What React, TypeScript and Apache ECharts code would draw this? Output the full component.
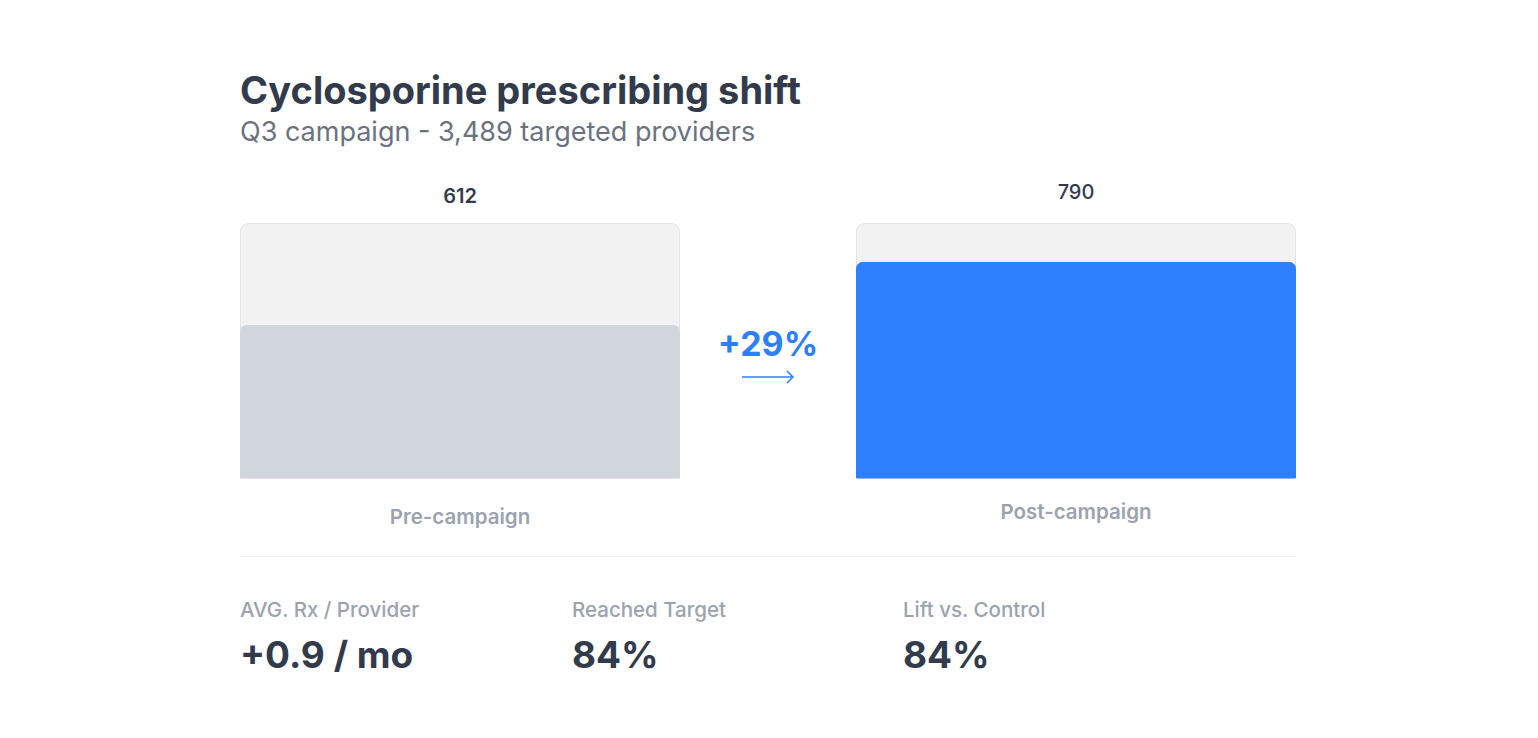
import React, { useEffect, useRef } from "react";
import * as echarts from "echarts";

// Provider prescribing volume before and after the Q3 campaign
const categories = ["Pre-campaign", "Post-campaign"];
const prescriptions = [612, 790];
const trackMax = 900;
const axisMin = 180;

// Summary statistics shown under the chart
const statLabels = ["AVG. Rx / Provider", "Reached Target", "Lift vs. Control"];
const statValues = ["+0.9 / mo", "84%", "84%"];

const TITLE = "Cyclosporine prescribing shift";
const SUBTITLE = "Q3 campaign - 3,489 targeted providers";

const FONT = "Inter, 'Noto Sans', sans-serif";
const DARK = "#323b4c";
const MUTED = "#9ba3b0";
const BLUE = "#2e7ffe";

export default function App() {
  const ref = useRef<HTMLDivElement>(null);

  useEffect(() => {
    document.body.style.margin = "0";
    if (!ref.current) return;
    const chart = echarts.init(ref.current, undefined, { renderer: "svg" });

    const change = (prescriptions[1] - prescriptions[0]) / prescriptions[0];
    const changeText = `${change >= 0 ? "+" : ""}${Math.round(change * 100)}%`;
    const statX = [240, 572, 903];

    chart.setOption({
      animation: false,
      backgroundColor: "#ffffff",
      grid: { left: 152, right: 154, top: 223, bottom: 260 },
      xAxis: {
        type: "category",
        data: [
          { value: categories[0], textStyle: { padding: [5, 0, 0, 0] } },
          { value: categories[1], textStyle: { padding: [0, 0, 0, 0] } },
        ],
        axisLine: { show: false },
        axisTick: { show: false },
        axisLabel: {
          margin: 23,
          color: MUTED,
          fontFamily: FONT,
          fontSize: 20.5,
          fontWeight: 600,
        },
      },
      yAxis: {
        type: "value",
        min: axisMin,
        max: trackMax,
        show: false,
        splitLine: { show: false },
      },
      series: [
        {
          name: "track",
          type: "bar",
          barWidth: 440,
          silent: true,
          z: 1,
          data: prescriptions.map((_, i) => ({
            value: trackMax,
            label: { distance: i === 0 ? 17 : 21, fontWeight: i === 0 ? 600 : 500 },
          })),
          itemStyle: {
            color: "#f2f2f2",
            borderColor: "#e1e2e7",
            borderWidth: 1,
            borderRadius: [8, 8, 0, 0],
          },
          label: {
            show: true,
            position: "top",
            formatter: (p: any) => String(prescriptions[p.dataIndex]),
            color: DARK,
            fontFamily: FONT,
            fontSize: 20,
          },
        },
        {
          name: "Prescriptions",
          type: "bar",
          barWidth: 440,
          barGap: "-100%",
          z: 2,
          data: prescriptions.map((v, i) => ({
            value: v,
            itemStyle: {
              color: i === 0 ? "#d1d6de" : BLUE,
              borderColor: i === 0 ? "#d1d6de" : BLUE,
            },
          })),
          itemStyle: {
            borderWidth: 1,
            borderRadius: [6, 6, 0, 0],
          },
        },
      ],
      graphic: [
        {
          type: "text",
          x: 240,
          y: 90,
          style: {
            text: TITLE,
            fill: DARK,
            font: `bold 38px ${FONT}`,
            verticalAlign: "middle",
          },
        },
        {
          type: "text",
          x: 240,
          y: 131,
          style: {
            text: SUBTITLE,
            fill: "#6b7280",
            font: `400 27px ${FONT}`,
            verticalAlign: "middle",
          },
        },
        {
          type: "text",
          x: 768,
          y: 343,
          style: {
            text: changeText,
            fill: BLUE,
            font: `bold 34px ${FONT}`,
            align: "center",
            verticalAlign: "middle",
          },
        },
        {
          type: "line",
          shape: { x1: 742, y1: 377, x2: 793, y2: 377 },
          style: { stroke: BLUE, lineWidth: 1.5 },
        },
        {
          type: "polyline",
          shape: { points: [[787, 371], [793, 377], [787, 383]] },
          style: { stroke: BLUE, lineWidth: 1.5, fill: "none" },
        },
        {
          type: "line",
          shape: { x1: 240, y1: 556.5, x2: 1296, y2: 556.5 },
          style: { stroke: "#f0f1f3", lineWidth: 1 },
        },
        ...statLabels.map((t, i) => ({
          type: "text",
          x: statX[i],
          y: 609,
          style: {
            text: t,
            fill: MUTED,
            font: `500 20.5px ${FONT}`,
            verticalAlign: "middle",
          },
        })),
        ...statValues.map((t, i) => ({
          type: "text",
          x: statX[i],
          y: 654,
          style: {
            text: t,
            fill: DARK,
            font: `bold 37px ${FONT}`,
            verticalAlign: "middle",
          },
        })),
      ],
    });

    return () => chart.dispose();
  }, []);

  return (
    <div
      ref={ref}
      style={{ position: "fixed", left: 0, top: 0, width: 1538, height: 738 }}
    />
  );
}
